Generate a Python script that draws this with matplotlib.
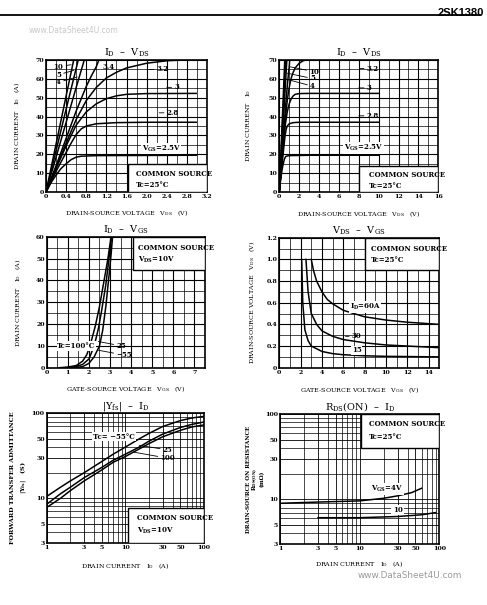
import numpy as np
import matplotlib
matplotlib.use("Agg")
import matplotlib.pyplot as plt
from matplotlib.patches import Rectangle
from matplotlib.ticker import MultipleLocator, FixedLocator, LogLocator, NullFormatter

plt.rcParams['font.family'] = 'DejaVu Serif'
plt.rcParams['font.weight'] = 'bold'
plt.rcParams['mathtext.default'] = 'regular'

# ---- I_D - V_DS ----
vds_25 = [0, 0.1, 0.2, 0.3, 0.4, 0.5, 0.6, 0.7, 1.0, 3.0]
id_25 = [0, 5, 9, 12.5, 15, 17.2, 18.5, 19, 19.3, 19.5]
vds_28 = [0, 0.1, 0.2, 0.3, 0.4, 0.5, 0.6, 0.7, 0.8, 1.0, 1.4, 2.0, 3.0]
id_28 = [0, 5.5, 11, 16, 21, 26, 30.5, 33.5, 35, 36.2, 36.8, 37, 37]
vds_30 = [0, 0.2, 0.4, 0.6, 0.8, 1.0, 1.2, 1.4, 1.6, 2.0, 3.0]
id_30 = [0, 12.5, 24.5, 35.5, 42.5, 46.8, 49.5, 51, 51.8, 52.2, 52.3]
vds_32 = [0, 0.2, 0.4, 0.6, 0.8, 1.0, 1.2, 1.4, 1.6, 2.0, 2.4, 2.7, 3.0]
id_32 = [0, 13, 26, 38.5, 48.5, 55.5, 60.5, 63.5, 65.8, 68.3, 69.6, 70, 70]
vds_34 = [0, 0.2, 0.4, 0.6, 0.8, 0.9, 1.0, 1.05]
id_34 = [0, 14, 28.5, 43, 56, 61.5, 66.5, 70]
vds_4 = [0, 0.2, 0.4, 0.6, 0.76]
id_4 = [0, 18.5, 37, 55.5, 70]
vds_5 = [0, 0.2, 0.4, 0.64]
id_5 = [0, 22, 44, 70]
vds_10 = [0, 0.2, 0.4, 0.55]
id_10 = [0, 25.5, 51, 70]
vds_end_wide = 10.0

# ---- I_D - V_GS ----
vgs_100 = [0.6, 1.0, 1.4, 1.7, 1.9, 2.05, 2.3, 2.5, 2.7, 2.9, 3.05]
idg_100 = [0, 0.3, 1, 3, 6, 10, 19, 28, 39, 50, 60]
vgs_p25 = [0.9, 1.3, 1.7, 2.0, 2.25, 2.45, 2.6, 2.8, 2.95, 3.07]
idg_p25 = [0, 0.3, 1.5, 4, 10, 18, 26, 38, 50, 60]
vgs_m55 = [1.3, 1.7, 2.0, 2.25, 2.5, 2.65, 2.8, 2.95, 3.05, 3.12]
idg_m55 = [0, 0.5, 2, 5, 10, 17, 28, 42, 52, 60]

# ---- V_DS - V_GS ----
vg_60 = [3.0, 3.2, 3.5, 4, 4.5, 5, 6, 7, 8, 10, 12, 15]
vd_60 = [1.0, 0.9, 0.8, 0.7, 0.63, 0.59, 0.53, 0.5, 0.47, 0.44, 0.42, 0.40]
vg_30 = [2.5, 2.7, 3.0, 3.5, 4, 5, 6, 8, 10, 12, 15]
vd_30 = [1.0, 0.7, 0.5, 0.4, 0.34, 0.29, 0.26, 0.23, 0.21, 0.2, 0.185]
vg_15 = [2.1, 2.2, 2.4, 2.7, 3, 4, 5, 6, 8, 10, 15]
vd_15 = [1.0, 0.6, 0.35, 0.25, 0.2, 0.15, 0.13, 0.12, 0.11, 0.105, 0.1]

# ---- |Yfs| - I_D ----
idy = [1, 1.5, 2, 3, 5, 7, 10, 15, 20, 30, 50, 70, 100]
yfs_m55 = [10.5, 13.5, 16, 20, 27, 33, 40, 50, 58, 70, 82, 88, 92]
yfs_25 = [8.5, 11.3, 13.5, 17.5, 23, 28, 33, 40, 47, 57, 68, 74, 79]
yfs_100 = [7.8, 10, 12.3, 16, 21.5, 26.5, 31, 38, 44, 53, 63, 69, 73]

# ---- RDS(on) - I_D ----
idr_4 = [1, 3, 10, 20, 30, 45, 60]
rds_4 = [9.0, 9.3, 9.6, 10.3, 11, 12, 13.5]
idr_10 = [3, 10, 30, 60, 90]
rds_10 = [6.1, 6.1, 6.3, 6.6, 7.0]

fs_tick = 4.5
fs_lab = 4.6
fs_title = 7
fs_box = 5


def style(ax):
    for s in ax.spines.values():
        s.set_linewidth(1.2)
    ax.tick_params(which='both', length=0, pad=1.5, labelsize=fs_tick)
    ax.grid(which='major', color='black', lw=0.8)
    ax.grid(which='minor', color='black', lw=0.5)
    ax.set_axisbelow(True)


def log_axes(ax):
    ax.set_xscale('log')
    ax.set_yscale('log')
    ax.set_xlim(1, 100)
    ax.set_ylim(3, 100)
    ax.xaxis.set_major_locator(FixedLocator([1, 3, 5, 10, 30, 50, 100]))
    ax.yaxis.set_major_locator(FixedLocator([3, 5, 10, 30, 50, 100]))
    ax.xaxis.set_major_formatter(plt.FuncFormatter(lambda v, p: '%g' % v))
    ax.yaxis.set_major_formatter(plt.FuncFormatter(lambda v, p: '%g' % v))
    ax.xaxis.set_minor_locator(LogLocator(subs=np.arange(2, 10)))
    ax.yaxis.set_minor_locator(LogLocator(subs=np.arange(2, 10)))
    ax.xaxis.set_minor_formatter(NullFormatter())
    ax.yaxis.set_minor_formatter(NullFormatter())
    style(ax)
    ax.grid(which='major', color='black', lw=0.6)


def title(ax, t):
    ax.set_title(t, fontsize=fs_title, pad=3, fontweight='normal')


def box(ax, x0, y0, x1, y1, lines, tx, ty):
    ax.add_patch(Rectangle((x0, y0), x1 - x0, y1 - y0, facecolor='white',
                           edgecolor='black', lw=1.0, zorder=3))
    for t, yy in zip(lines, ty):
        ax.text(tx, yy, t, fontsize=fs_box, va='center', ha='left', zorder=4)


def lab(ax, text, xy, xytext, ha='left'):
    ax.annotate(text, xy=xy, xytext=xytext, fontsize=fs_box, va='center', ha=ha,
                arrowprops=dict(arrowstyle='-', lw=0.6, color='black', shrinkA=0, shrinkB=0),
                zorder=4)


def note(ax, x, y, text, ha='left'):
    ax.text(x, y, text, fontsize=fs_box, va='center', ha=ha,
            bbox=dict(facecolor='white', edgecolor='none', pad=0.5), zorder=4)


fig = plt.figure(figsize=(4.87, 6.05), dpi=100)

# header
fig.text(0.994, 0.987, '2SK1380', fontsize=8, fontweight='bold', family='Liberation Sans',
         ha='right', va='top')
fig.add_artist(plt.Line2D([0.0, 0.985], [0.976, 0.976], color='black', lw=1.3))
fig.text(0.058, 0.949, 'www.DataSheet4U.com', fontsize=5.5, color='#c8c8c8',
         family='DejaVu Sans', fontweight='normal', va='center')
fig.text(0.735, 0.049, 'www.DataSheet4U.com', fontsize=6.4, color='#9a9a9a',
         family='DejaVu Sans', fontweight='normal', va='center')

vds_sets = [(vds_25, id_25), (vds_28, id_28), (vds_30, id_30), (vds_32, id_32),
            (vds_34, id_34), (vds_4, id_4), (vds_5, id_5), (vds_10, id_10)]

# ---- top left ----
ax = fig.add_axes([0.0945, 0.6826, 0.3306, 0.2182])
for v, i in vds_sets:
    ax.plot(v, i, color='black', lw=1.1, solid_capstyle='butt')
ax.set_xlim(0, 3.2)
ax.set_ylim(0, 70)
ax.xaxis.set_major_locator(FixedLocator([0, 0.4, 0.8, 1.2, 1.6, 2.0, 2.4, 2.8, 3.2]))
ax.xaxis.set_major_formatter(plt.FuncFormatter(lambda v, p: '0' if v == 0 else '%.1f' % v))
ax.xaxis.set_minor_locator(MultipleLocator(0.2))
ax.yaxis.set_major_locator(MultipleLocator(10))
ax.yaxis.set_minor_locator(MultipleLocator(5))
style(ax)
title(ax, 'I$_{D}$  –  V$_{DS}$')
ax.set_xlabel('DRAIN-SOURCE VOLTAGE   V$_{DS}$   (V)', fontsize=fs_lab)
ax.set_ylabel('DRAIN CURRENT   I$_{D}$   (A)', fontsize=fs_lab)
ax.xaxis.set_label_coords(0.5, -0.12)
ax.yaxis.set_label_coords(-0.15, 0.5)
lab(ax, '10', (0.5, 67.5), (0.15, 66.5))
lab(ax, '5', (0.55, 64.5), (0.2, 62.2))
lab(ax, '4', (0.62, 61), (0.2, 58.2))
ax.text(1.12, 66.3, '3.4', fontsize=fs_box, va='center')
lab(ax, '3.2', (2.05, 65), (2.2, 65))
lab(ax, '3', (2.4, 55.5), (2.55, 55.5))
lab(ax, '2.8', (2.25, 42), (2.4, 42))
note(ax, 1.9, 23, 'V$_{GS}$=2.5V')
box(ax, 1.63, 0, 3.2, 14.6, ['COMMON SOURCE', 'Tc=25°C'], 1.78, [9.7, 3.5])

# ---- top right ----
ax = fig.add_axes([0.5735, 0.6826, 0.3265, 0.2182])
for v, i in vds_sets:
    vv = list(v)
    ii = list(i)
    if v[-1] == 3.0:
        vv.append(vds_end_wide)
        ii.append(i[-1])
    ax.plot(vv, ii, color='black', lw=1.1)
ax.set_xlim(0, 16)
ax.set_ylim(0, 70)
ax.xaxis.set_major_locator(MultipleLocator(2))
ax.xaxis.set_minor_locator(MultipleLocator(1))
ax.yaxis.set_major_locator(MultipleLocator(10))
ax.yaxis.set_minor_locator(MultipleLocator(5))
style(ax)
title(ax, 'I$_{D}$  –  V$_{DS}$')
ax.set_xlabel('DRAIN-SOURCE VOLTAGE   V$_{DS}$   (V)', fontsize=fs_lab)
ax.set_ylabel('DRAIN CURRENT   I$_{D}$', fontsize=fs_lab)
ax.xaxis.set_label_coords(0.5, -0.13)
ax.yaxis.set_label_coords(-0.165, 0.5)
lab(ax, '10', (1.0, 66.5), (3.0, 63.8))
lab(ax, '5', (0.8, 63), (3.1, 60.2))
lab(ax, '4', (0.6, 60), (3.1, 56.1))
lab(ax, '3.2', (8.1, 65.5), (8.8, 65.5))
lab(ax, '3', (8.0, 55.2), (8.8, 55.2))
lab(ax, '2.8', (8.0, 40.4), (8.8, 40.4))
note(ax, 6.5, 23.3, 'V$_{GS}$=2.5V')
box(ax, 8, 0, 16, 13.7, ['COMMON SOURCE', 'Tc=25°C'], 9.0, [8.9, 3.2])

# ---- middle left ----
ax = fig.add_axes([0.0959, 0.3922, 0.3251, 0.2165])
for v, i in [(vgs_100, idg_100), (vgs_p25, idg_p25), (vgs_m55, idg_m55)]:
    ax.plot(v, i, color='black', lw=1.1)
ax.set_xlim(0, 7.5)
ax.set_ylim(0, 60)
ax.xaxis.set_major_locator(MultipleLocator(1))
ax.xaxis.set_minor_locator(MultipleLocator(0.5))
ax.yaxis.set_major_locator(MultipleLocator(10))
ax.yaxis.set_minor_locator(MultipleLocator(5))
style(ax)
title(ax, 'I$_{D}$  –  V$_{GS}$')
ax.set_xlabel('GATE-SOURCE VOLTAGE   V$_{GS}$   (V)', fontsize=fs_lab)
ax.set_ylabel('DRAIN CURRENT   I$_{D}$   (A)', fontsize=fs_lab)
ax.xaxis.set_label_coords(0.5, -0.125)
ax.yaxis.set_label_coords(-0.152, 0.5)
ax.annotate('Tc=100°C', xy=(2.05, 10), xytext=(0.5, 10), fontsize=fs_box, va='center',
            bbox=dict(facecolor='white', edgecolor='none', pad=0.5),
            arrowprops=dict(arrowstyle='-', lw=0.6, shrinkA=0, shrinkB=0), zorder=4)
lab(ax, '25', (2.45, 12), (3.3, 10))
lab(ax, '−55', (2.45, 8), (3.3, 5.8))
box(ax, 4.1, 44.7, 7.5, 60, ['COMMON SOURCE', 'V$_{DS}$=10V'], 4.33, [55, 49.6])

# ---- middle right ----
ax = fig.add_axes([0.5735, 0.3922, 0.3285, 0.2149])
for v, d in [(vg_60, vd_60), (vg_30, vd_30), (vg_15, vd_15)]:
    ax.plot(v, d, color='black', lw=1.1)
ax.set_xlim(0, 15)
ax.set_ylim(0, 1.2)
ax.xaxis.set_major_locator(FixedLocator([0, 2, 4, 6, 8, 10, 12, 14]))
ax.xaxis.set_minor_locator(MultipleLocator(1))
ax.yaxis.set_major_locator(FixedLocator([0, 0.2, 0.4, 0.6, 0.8, 1.0, 1.2]))
ax.yaxis.set_major_formatter(plt.FuncFormatter(lambda v, p: '0' if v == 0 else '%.1f' % v))
ax.yaxis.set_minor_locator(MultipleLocator(0.1))
style(ax)
title(ax, 'V$_{DS}$  –  V$_{GS}$')
ax.set_xlabel('GATE-SOURCE VOLTAGE   V$_{GS}$   (V)', fontsize=fs_lab)
ax.set_ylabel('DRAIN-SOURCE VOLTAGE   V$_{DS}$   (V)', fontsize=fs_lab)
ax.xaxis.set_label_coords(0.5, -0.135)
ax.yaxis.set_label_coords(-0.14, 0.5)
note(ax, 6.6, 0.56, 'I$_{D}$=60A')
lab(ax, '30', (6.2, 0.29), (6.8, 0.29))
note(ax, 6.8, 0.16, '15')
box(ax, 8, 0.9, 15, 1.2, ['COMMON SOURCE', 'Tc=25°C'], 8.6, [1.095, 0.994])

# ---- bottom left ----
ax = fig.add_axes([0.0959, 0.1030, 0.3230, 0.2139])
for y in [yfs_m55, yfs_25, yfs_100]:
    ax.plot(idy, y, color='black', lw=1.1)
log_axes(ax)
title(ax, '|Y$_{fs}$|  –  I$_{D}$')
ax.set_xlabel('DRAIN CURRENT   I$_{D}$   (A)', fontsize=fs_lab)
ax.xaxis.set_label_coords(0.5, -0.14)
ax.text(-0.215, 0.5, 'FORWARD TRANSFER ADMITTANCE', rotation=90, fontsize=fs_lab,
        transform=ax.transAxes, ha='center', va='center')
ax.text(-0.15, 0.5, '|Y$_{fs}$|   (S)', rotation=90, fontsize=fs_lab,
        transform=ax.transAxes, ha='center', va='center')
note(ax, 3.9, 53, 'Tc= −55°C')
lab(ax, '25', (15, 42), (30, 37))
lab(ax, '100', (12.5, 35), (28, 29.6))
box(ax, 10.7, 3, 100, 7.6, ['COMMON SOURCE', 'V$_{DS}$=10V'], 13.9, [5.8, 4.1])

# ---- bottom right ----
ax = fig.add_axes([0.5749, 0.1008, 0.3271, 0.2149])
ax.plot(idr_4, rds_4, color='black', lw=1.1)
ax.plot(idr_10, rds_10, color='black', lw=1.1)
log_axes(ax)
title(ax, 'R$_{DS}$(ON)  –  I$_{D}$')
ax.set_xlabel('DRAIN CURRENT   I$_{D}$   (A)', fontsize=fs_lab)
ax.xaxis.set_label_coords(0.5, -0.12)
ax.text(-0.195, 0.5, 'DRAIN-SOURCE ON RESISTANCE', rotation=90, fontsize=4.1,
        transform=ax.transAxes, ha='center', va='center')
ax.text(-0.152, 0.5, 'R$_{DS(ON)}$', rotation=90, fontsize=4.1,
        transform=ax.transAxes, ha='center', va='center')
ax.text(-0.11, 0.5, '(mΩ)', rotation=90, fontsize=4.1,
        transform=ax.transAxes, ha='center', va='center')
note(ax, 14, 13.3, 'V$_{GS}$=4V')
ax.text(30, 7.5, '10', fontsize=fs_box, va='center', ha='center',
        bbox=dict(facecolor='white', edgecolor='none', pad=1.0), zorder=4)
box(ax, 10.3, 40, 100, 100, ['COMMON SOURCE', 'Tc=25°C'], 13.2, [75.8, 53.6])

fig.savefig('out.png', dpi=100)
